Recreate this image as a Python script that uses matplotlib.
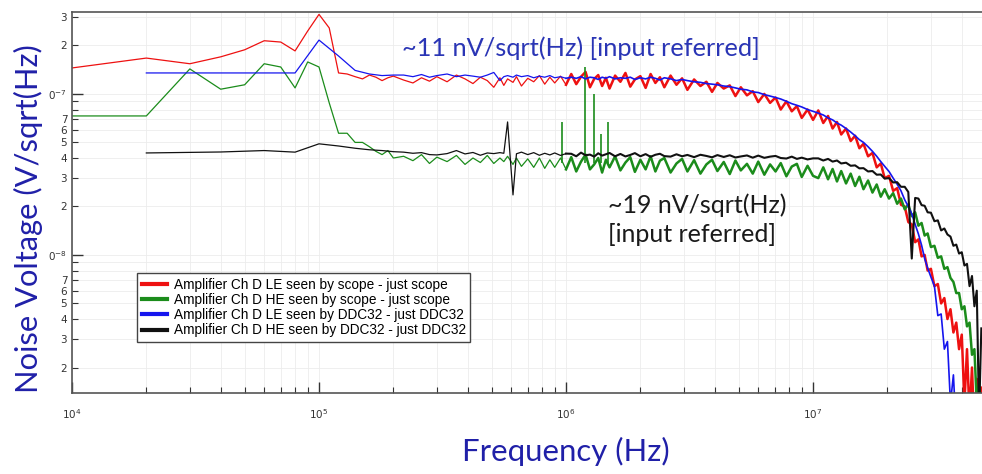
import matplotlib
matplotlib.use('Agg')
import matplotlib.pyplot as plt
import numpy as np
from matplotlib.ticker import LogLocator, FuncFormatter, NullFormatter

# frequency grids (kHz)
f_scope_lo = [10, 20, 30, 40, 50, 60, 70, 80, 90, 100,
              110, 120, 130, 140, 150, 160, 170, 180, 190, 200]
f_ddc_lo = [20, 40, 60, 80, 100, 120, 140, 160, 180, 200]
f_mid = [220, 240, 260, 280, 300, 330, 360, 390, 420, 450,
         480, 510, 540, 560, 580, 610, 630, 660, 700, 740,
         780, 820, 860, 900, 950, 1000]
f_hi1 = [1050, 1100, 1150, 1200, 1250, 1300, 1350, 1400, 1450, 1500,
         1580, 1660, 1740, 1820, 1900, 2000, 2100, 2200, 2300, 2400,
         2500, 2650, 2800, 2950, 3100, 3300, 3500, 3700, 3900, 4100,
         4350, 4600, 4850, 5100, 5400, 5700, 6000, 6350, 6700, 7050,
         7400, 7800, 8200, 8600, 9000, 9500, 10000]
f_hi2 = [10500, 11000, 11500, 12000, 12500, 13000, 13600, 14200, 14800, 15400,
         16000, 16700, 17400, 18100, 18800, 19500, 20300, 21100, 21900, 22700,
         23500, 24300, 25100, 25900, 26700, 27500, 28300, 29100, 30000, 31000,
         32000, 33000, 34000, 35000, 36000, 37000, 38000, 39000, 40000, 41000,
         42000, 43000, 44000, 45000, 46000, 47000, 48000]

# noise values (nV/sqrt(Hz))
red_lo = [145, 167, 154, 170, 188, 214, 210, 185, 246, 312,
          257, 135, 133, 128, 124, 131, 127, 121, 126, 129]
red_mid = [122, 117, 126, 120, 128, 119, 131, 124, 116, 127,
           121, 110, 126, 113, 124, 118, 128, 112, 125, 119,
           130, 115, 127, 117, 129, 114]
red_hi1 = [133, 115, 128, 137, 110, 124, 131, 112, 126, 108,
           130, 119, 135, 111, 123, 129, 109, 133, 117, 127,
           110, 130, 114, 125, 106, 123, 112, 119, 103, 117,
           108, 113, 97, 110, 98, 104, 89, 100, 88, 95,
           80, 90, 78, 84, 71, 80, 69]
red_hi2 = [79, 66, 73, 61, 67, 56, 61, 51, 55, 46,
           49, 41, 43, 35, 37, 30, 31, 25, 26, 20.5,
           20, 16, 15.5, 12, 12.5, 9.8, 10, 8.0, 8.2, 6.4,
           6.6, 5.0, 5.4, 4.0, 4.6, 3.3, 3.8, 2.6, 3.2, 1.2,
           2.6, 1.0, 2.0, 0.8, 1.7, 0.6, 1.5]

green_lo = [73, 73, 143, 107, 114, 154, 147, 109, 158, 147,
            88, 57, 57, 50, 50, 47, 44, 42, 44.5, 40]
green_mid = [41, 38.5, 42, 37, 40.5, 38, 41.5, 36.5, 40, 37.5,
             41.5, 37, 40, 38, 41, 36.5, 40, 35.5, 39.5, 35,
             40, 34.5, 39, 35, 40, 34]
green_hi1 = [40.5, 33, 38, 42, 34, 36.5, 40, 32.5, 39, 35,
             41, 33.5, 37.5, 40.5, 32.8, 39, 34, 41, 33, 38.5,
             40, 32.5, 37, 39.5, 33, 38.8, 32, 36.5, 39, 33.2,
             37.8, 31.8, 38.6, 33.5, 36.8, 32, 38, 31.5, 36.5, 33,
             37.2, 30.8, 35.4, 36.8, 30.5, 35.8, 31]
green_hi2 = [30, 35, 29.5, 34.2, 28.6, 33.2, 27.8, 32, 26.8, 30.6,
             25.6, 29, 24.4, 27.4, 23, 25.6, 22.4, 24.2, 20.8, 22.4,
             19.2, 20.6, 17.4, 18.4, 15.2, 15.8, 13.2, 13.6, 11.2, 11.4,
             9.6, 9.8, 8.2, 8.4, 7.2, 6.8, 5.8, 5.8, 4.6, 4.8,
             3.6, 3.8, 2.4, 2.6, 1.2, 1.6, 0.9]
green_spike_f = [964, 1194, 1297, 1386, 1479]
green_spike_top = [67, 147, 100, 56, 67]

blue_lo = [135, 135, 135, 135, 216, 172, 140, 133, 130, 131]
blue_mid = [131, 128, 132, 127, 130, 133, 128, 131, 129, 127,
            131, 136, 121, 128, 130, 127, 131, 128, 130, 126,
            129, 127, 130, 126, 128, 125]
blue_hi1 = [127, 125, 128, 124, 127, 126, 123, 127, 125, 128,
            124, 126, 125, 127, 123, 126, 124, 127, 125, 122,
            126, 124, 121, 123, 121, 119, 118, 116, 115, 114,
            112, 111, 109, 107, 106, 103, 102, 99, 97, 95,
            93, 90, 87, 85, 83, 80, 78]
blue_hi2 = [76, 74, 71, 69, 66, 64, 61, 58, 55, 52,
            50, 47, 44, 41, 38, 35.5, 33, 30, 27.5, 25,
            22, 20, 18, 15.5, 13.5, 11.5, 9.5, 8.3, 7.3, 6.4,
            4.2, 4.3, 2.6, 2.9, 1.2, 1.8, 0.8, 1.2, 0.5, 0.5,
            0.5, 0.5, 0.5, 0.5, 0.5, 0.5, 0.5]

black_lo = [43, 43.6, 44.5, 43.5, 49, 47.5, 46, 45, 44.5, 43.8]
black_mid = [43.5, 42.8, 43.2, 42, 41.8, 42.6, 44.5, 42.4, 43.3, 41.6,
             43, 42.6, 43.2, 42.8, 67, 23.6, 42.5, 43.5, 42, 43.2,
             41.6, 42.8, 41.8, 43, 41.5, 42.6]
black_hi1 = [42.5, 41, 43.2, 41.6, 42, 40.8, 42.8, 41.4, 42.2, 43,
             41, 42.4, 40.9, 41.8, 42.9, 41, 42.3, 40.7, 41.9, 42.5,
             41.1, 40.8, 42.2, 41, 41.8, 40.5, 41.9, 41.2, 40.4, 41.7,
             40.6, 41.6, 40.3, 40.9, 41.5, 40.2, 41.4, 40.1, 40.8, 41.2,
             40, 39.7, 40.8, 39.5, 40.2, 39.2, 39.8]
black_hi2 = [39.8, 38.6, 39.5, 38.0, 38.6, 37.0, 37.4, 35.8, 36.0, 34.5,
             34.6, 33.0, 33.2, 31.5, 31.6, 29.8, 30.0, 28.2, 28.3, 26.5,
             26.5, 24.6, 9.5, 22.6, 22.4, 20.4, 20.2, 18.4, 18.3, 16.2,
             16.4, 14.2, 14.6, 13.4, 13.0, 11.4, 11.6, 10.2, 10.4, 8.6,
             8.8, 6.4, 7.4, 4.8, 6.0, 1.0, 3.5]

labels = ['Amplifier Ch D LE seen by scope - just scope',
          'Amplifier Ch D HE seen by scope - just scope',
          'Amplifier Ch D LE seen by DDC32 - just DDC32',
          'Amplifier Ch D HE seen by DDC32 - just DDC32']
colors = ['#ee1111', '#1b8c1b', '#1515ee', '#111111']

f_scope = np.array(f_scope_lo + f_mid + f_hi1 + f_hi2) * 1e3
f_ddc = np.array(f_ddc_lo + f_mid + f_hi1 + f_hi2) * 1e3
red = np.array(red_lo + red_mid + red_hi1 + red_hi2) * 1e-9
green = np.array(green_lo + green_mid + green_hi1 + green_hi2) * 1e-9
blue = np.array(blue_lo + blue_mid + blue_hi1 + blue_hi2) * 1e-9
black = np.array(black_lo + black_mid + black_hi1 + black_hi2) * 1e-9

fig = plt.figure(figsize=(9.82, 4.74), dpi=100)
ax = fig.add_axes([0.0733, 0.171, 0.9267, 0.8038])

# thin lines at low frequency, heavier where the traces get dense
n_s = len(f_scope_lo) + len(f_mid) - 1
n_d = len(f_ddc_lo) + len(f_mid) - 1
series = [(f_scope, red, n_s, 1.8), (f_scope, green, n_s, 1.8),
          (f_ddc, blue, n_d, 1.2), (f_ddc, black, n_d, 1.5)]
for i, (f, v, n, lw_hi) in enumerate(series):
    ax.plot(f[:n + 1], v[:n + 1], color=colors[i], lw=0.9, label=labels[i])
    ax.plot(f[n:], v[n:], color=colors[i], lw=lw_hi)
    if i == 1:
        ax.vlines(np.array(green_spike_f) * 1e3, 37e-9,
                  np.array(green_spike_top) * 1e-9, color=colors[1], lw=1.2)

ax.set_xscale('log')
ax.set_yscale('log')
ax.set_xlim(1e4, 4.83e7)
ax.set_ylim(1.39e-9, 3.23e-7)
ymin, ymax = ax.get_ylim()

# MATLAB-like ticks
ax.xaxis.set_major_locator(LogLocator(base=10))
ax.xaxis.set_minor_locator(LogLocator(base=10, subs=range(2, 10)))
ax.xaxis.set_minor_formatter(NullFormatter())
ax.yaxis.set_major_locator(LogLocator(base=10))
ax.yaxis.set_minor_locator(LogLocator(base=10, subs=range(2, 10)))


def ymajor(v, pos):
    if not ymin <= v <= ymax:
        return ''
    return r'0$^{%d}$' % int(round(np.log10(v)))


def yminor(v, pos):
    if not ymin <= v <= ymax:
        return ''
    m = int(round(v / 10 ** np.floor(np.log10(v) + 1e-9)))
    return str(m) if 2 <= m <= 7 else ''


ax.yaxis.set_major_formatter(FuncFormatter(ymajor))
ax.yaxis.set_minor_formatter(FuncFormatter(yminor))
ax.tick_params(which='both', direction='in', colors='#333333', labelsize=7.5)
ax.tick_params(which='major', length=8, width=1)
ax.tick_params(which='minor', length=4, width=0.8)
ax.tick_params(axis='x', pad=10)
ax.grid(True, which='both', color='#ececec', lw=0.6)
ax.set_axisbelow(True)
for s in ['left', 'bottom', 'top']:
    ax.spines[s].set_color('#555555')
    ax.spines[s].set_linewidth(1.2)
ax.spines['right'].set_visible(False)

ax.set_ylabel('Noise Voltage (V/sqrt(Hz)', fontsize=22.2, color='#2020a8', family='Lato')
ax.yaxis.set_label_coords(-0.032, 0.457)
ax.set_xlabel('Frequency (Hz)', fontsize=22.4, color='#2020a8', family='Lato')
ax.xaxis.set_label_coords(0.543, -0.115)

ax.text(0.3626, 0.905, '~11 nV/sqrt(Hz) [input referred]', transform=ax.transAxes,
        fontsize=18.3, color='#2a35b5', family='Lato', va='center', ha='left')
ax.text(0.589, 0.454, '~19 nV/sqrt(Hz)\n[input referred]', transform=ax.transAxes,
        fontsize=18, color='#1a1a1a', family='Lato', va='center', ha='left',
        linespacing=1.3)

leg = ax.legend(loc='upper left', bbox_to_anchor=(0.0714, 0.315), borderaxespad=0,
                frameon=True, fancybox=False, framealpha=1,
                handlelength=1.85, handletextpad=0.5, labelspacing=0.09,
                borderpad=0.35, prop={'family': 'Liberation Sans', 'size': 9.8})
leg.get_frame().set_edgecolor('#444444')
leg.get_frame().set_linewidth(1.0)
for h in leg.get_lines():
    h.set_linewidth(3)

fig.savefig('out.png', dpi=100)
